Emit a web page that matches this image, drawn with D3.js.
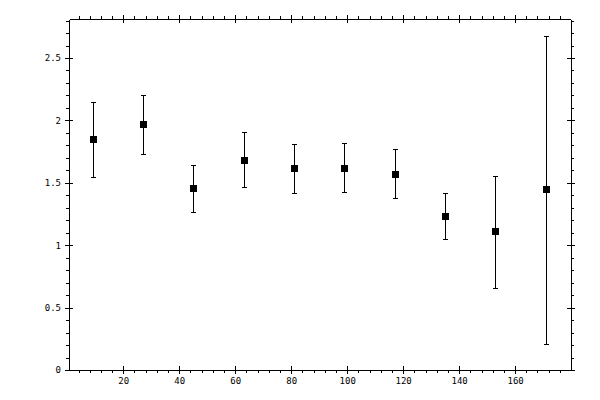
<!DOCTYPE html>
<html>
<head>
<meta charset="utf-8">
<script src="https://cdn.jsdelivr.net/npm/d3@7"></script>
<style>
  body { margin: 0; background: #fff; }
  svg { display: block; }
  .axis path, .axis line { stroke: #000; shape-rendering: crispEdges; }
  .axis text { font-family: "DejaVu Sans Mono", monospace; font-size: 9px; fill: #000; }
  .bar { stroke: #000; stroke-width: 1; shape-rendering: crispEdges; }
  .pt  { fill: #000; shape-rendering: crispEdges; }
</style>
</head>
<body>
<div id="chart"></div>
<script>
  // bin centres (x) and mean with lower / upper error limits
  let binX   = [9, 27, 45, 63, 81, 99, 117, 135, 153, 171]
  let meanY  = [1.85, 1.97, 1.455, 1.68, 1.615, 1.615, 1.57, 1.23, 1.11, 1.45]
  let lowY   = [1.55, 1.73, 1.265, 1.465, 1.415, 1.425, 1.375, 1.05, 0.66, 0.21]
  let highY  = [2.145, 2.2, 1.64, 1.905, 1.81, 1.815, 1.77, 1.415, 1.555, 2.68]

  let xMajor = [20, 40, 60, 80, 100, 120, 140, 160]
  let xMinor = d3.range(4, 180, 4).filter(function(v) { return v % 20 !== 0 })
  let yMajor = [0, 0.5, 1, 1.5, 2, 2.5]
  let yMinor = d3.range(1, 29).map(function(v) { return v / 10 }).filter(function(v) { return Math.round(v * 10) % 5 !== 0 })

  let width   = 600,
      height  = 400,
      mLeft   = 69, mRight = 570.5, mTop = 19.3, mBottom = 370

  let x = d3.scaleLinear().domain([0.6, 179.8]).range([mLeft, mRight])
  let y = d3.scaleLinear().domain([0, 2.81]).range([mBottom, mTop])

  let svg = d3.select('#chart')
              .append('svg:svg')
              .attr('width', width)
              .attr('height', height)

  function _axis(gen, tr, values, size, labels) {
    let g = svg.append('svg:g')
      .attr('class', 'axis')
      .attr('transform', tr)
      .call(gen.tickValues(values).tickSize(size).tickSizeOuter(0)
               .tickPadding(labels ? 4 : 0)
               .tickFormat(labels ? d3.format('') : function() { return '' }))
    return g }

  // bottom
  _axis(d3.axisBottom(x), 'translate(0,' + mBottom + ')', xMajor, 4, true)
  _axis(d3.axisBottom(x), 'translate(0,' + mBottom + ')', xMajor, -4, false)
  _axis(d3.axisBottom(x), 'translate(0,' + mBottom + ')', xMinor, 3, false)
  // top
  _axis(d3.axisTop(x), 'translate(0,' + mTop + ')', xMajor, 4, false)
  _axis(d3.axisTop(x), 'translate(0,' + mTop + ')', xMajor, -4, false)
  _axis(d3.axisTop(x), 'translate(0,' + mTop + ')', xMinor, 3, false)
  // left
  _axis(d3.axisLeft(y), 'translate(' + mLeft + ',0)', yMajor, 4, true)
  _axis(d3.axisLeft(y), 'translate(' + mLeft + ',0)', yMajor, -4, false)
  _axis(d3.axisLeft(y), 'translate(' + mLeft + ',0)', yMinor, 3, false)
  // right
  _axis(d3.axisRight(y), 'translate(' + mRight + ',0)', yMajor, 4, false)
  _axis(d3.axisRight(y), 'translate(' + mRight + ',0)', yMajor, -4, false)
  _axis(d3.axisRight(y), 'translate(' + mRight + ',0)', yMinor, 3, false)

  let data = binX.map(function(v, i) {
    return { x: v, m: meanY[i], lo: lowY[i], hi: highY[i] } })

  let marks = svg.append('svg:g').attr('id', 'marks')

  let bars = marks.selectAll('g.err').data(data).enter()
    .append('svg:g').attr('class', 'err')

  bars.append('svg:line').attr('class', 'bar')
    .attr('x1', function(d) { return Math.round(x(d.x)) + 0.5 })
    .attr('x2', function(d) { return Math.round(x(d.x)) + 0.5 })
    .attr('y1', function(d) { return y(d.lo) })
    .attr('y2', function(d) { return y(d.hi) })

  ;['lo', 'hi'].forEach(function(k) {
    bars.append('svg:line').attr('class', 'bar')
      .attr('x1', function(d) { return Math.round(x(d.x)) - 2 })
      .attr('x2', function(d) { return Math.round(x(d.x)) + 3 })
      .attr('y1', function(d) { return Math.round(y(d[k])) + 0.5 })
      .attr('y2', function(d) { return Math.round(y(d[k])) + 0.5 }) })

  bars.append('svg:rect').attr('class', 'pt')
    .attr('x', function(d) { return Math.round(x(d.x)) - 3 })
    .attr('y', function(d) { return Math.round(y(d.m)) - 3 })
    .attr('width', 7)
    .attr('height', 7)
</script>
</body>
</html>
